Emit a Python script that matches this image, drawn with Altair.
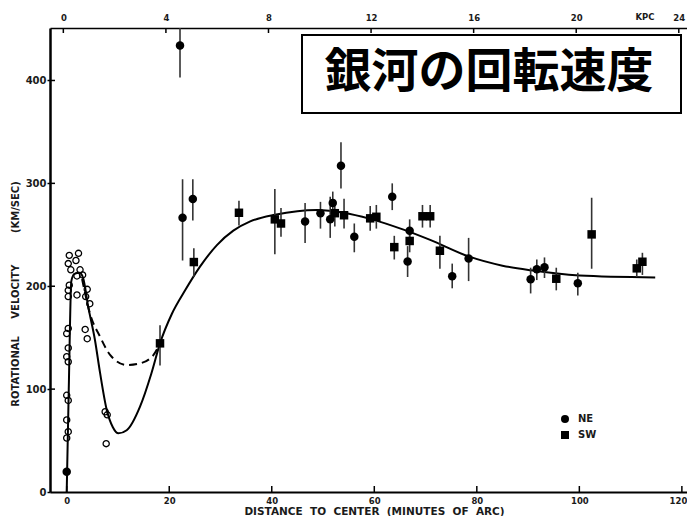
import altair as alt
import pandas as pd

# ---------------- data ----------------
x_ticks = [0, 20, 40, 60, 80, 100, 120]
y_ticks = [100, 200, 300, 400]
y_labels = [0, 100, 200, 300, 400]
kpc_ticks = [0, 4, 8, 12, 16, 20, 24]

# NE (filled circles): distance (arcmin), velocity, error low, error high
ne_x = [0.0, 22.1, 22.6, 24.6, 46.5, 49.5, 51.9, 51.4, 53.5, 56.1, 63.5, 66.9, 66.5,
        75.2, 78.4, 90.5, 91.7, 93.2, 99.7]
ne_v = [19.7, 434, 266.6, 284.7, 263, 271, 281, 265, 317, 248, 287, 254, 224,
        209.6, 227, 206.7, 216.4, 218.4, 202.8]
ne_lo = [19.7, 403, 225, 264, 242, 256, 268, 247, 295, 233, 274, 242, 209,
         198, 205, 193, 206, 208, 191]
ne_hi = [19.7, 460, 304, 304, 281, 282, 292, 287, 340, 261, 300, 265, 239,
         222, 247, 218, 226, 228, 213]

# SW (filled squares)
sw_x = [18.2, 24.8, 33.6, 40.6, 41.8, 52.3, 54.1, 59.2, 60.4, 63.9, 66.9, 69.4, 70.9,
        72.8, 95.5, 102.4, 111.2, 112.3]
sw_v = [144.5, 223.5, 271.4, 265, 261, 271, 269, 266, 267.5, 238, 244, 268, 268,
        234.5, 207.3, 250.4, 217.4, 223.8]
sw_lo = [123, 209, 259, 231, 248, 258, 256, 254, 256, 226, 233, 257, 257,
         217, 196, 217, 209, 211]
sw_hi = [162, 237, 283, 294.5, 276, 284, 285, 278, 279, 249, 255, 279, 279,
         249, 218, 286, 226, 232.5]

# inner-region open circles
open_x = [0.5, 2.3, 0.3, 1.8, 0.8, 2.6, 2.0, 3.1, 0.5, 0.3, 0.3, 2.0, 4.0, 4.5, 3.7,
          3.6, 4.0, 0.3, 0.0, 0.3, 0.0, 0.3, 0.0, 0.3, 0.0, 0.3, 0.0, 7.5, 7.9, 7.7]
open_v = [230, 232, 222, 225, 216, 216, 210, 211, 201, 196, 190, 191.5, 197, 183, 190,
          158, 149, 159, 154, 140, 131.5, 126.6, 94, 89, 70, 58.6, 52.5, 78, 75, 47]

# fitted rotation curve (solid) and alternative inner curve (dashed)
curve_x = [0, 0.4, 0.9, 1.5, 2.5, 3.2, 4.2, 5.5, 6.5, 7.8, 9.0, 10.1, 11.7, 14.3,
           16.5, 18.2, 20.5, 23.1, 26.0, 29.3, 32.5, 35.8, 40.6, 45.0, 48.8, 54.0,
           59.2, 65.7, 70.9, 78.4, 85.0, 90.5, 100.0, 114.8]
curve_v = [0, 100, 205, 212, 213, 208, 180, 148, 116, 80, 63, 57, 60, 83,
           115, 144.5, 173, 196, 219, 240, 254, 263, 269.5, 273, 274, 271.5,
           265.5, 255, 245, 229, 220, 215.5, 210.5, 208.6]
dash_x = [3.0, 4.5, 6.5, 8.5, 11.7, 14.3, 16.9, 18.2]
dash_v = [207, 174, 151, 133, 123.4, 125, 133, 144.5]

title_text = "銀河の回転速度"
x_title = "DISTANCE\u00a0 TO\u00a0 CENTER\u00a0 (MINUTES\u00a0 OF\u00a0 ARC)"
y_title = ("ROTATIONAL" + "\u00a0" * 5 + "VELOCITY" + "\u00a0" * 9 + "(KM/SEC)")
kpc_label = "KPC"

# ---------------- tables ----------------
pts = pd.DataFrame({
    "x": ne_x + sw_x,
    "v": ne_v + sw_v,
    "lo": ne_lo + sw_lo,
    "hi": ne_hi + sw_hi,
    "series": ["NE"] * len(ne_x) + ["SW"] * len(sw_x),
})
open_df = pd.DataFrame({"x": open_x, "v": open_v})
curve_df = pd.DataFrame({"x": curve_x, "v": curve_v})
dash_df = pd.DataFrame({"x": dash_x, "v": dash_v})
xt_df = pd.DataFrame({"t": x_ticks})
yt_df = pd.DataFrame({"t": y_ticks})
kt_df = pd.DataFrame({"k": kpc_ticks})
title_df = pd.DataFrame({"t": [title_text]})
kpc_df = pd.DataFrame({"t": [kpc_label]})

W, H = 637, 464
FONT = "DejaVu Sans"
TXT = "#1a1a1a"

xscale = alt.Scale(domain=[-3.26, 121.0], nice=False, zero=False)
yscale = alt.Scale(domain=[0, 451], nice=False, zero=False)
kscale = alt.Scale(domain=[-0.52, 24.32], nice=False, zero=False)

xaxis = alt.Axis(values=x_ticks, ticks=False, tickSize=0, labelPadding=4,
                 labelFontSize=8.5, labelFont=FONT, labelFontWeight="bold",
                 labelColor=TXT,
                 labelAlign=alt.condition("datum.value == 120", alt.value("right"),
                                          alt.value("center")),
                 labelOffset=alt.condition("datum.value == 120", alt.value(5),
                                           alt.value(0)),
                 domainWidth=2, domainColor="black", grid=False,
                 title=x_title, titleFont=FONT, titleFontSize=10.5,
                 titleFontWeight="bold", titleColor=TXT,
                 titleX=324, titleY=22, titleBaseline="alphabetic")
yaxis = alt.Axis(values=y_labels, ticks=True, tickSize=3, tickWidth=1.5,
                 tickColor="black", labelPadding=1, labelFontSize=10,
                 labelFont=FONT, labelFontWeight="bold", labelColor=TXT,
                 domainWidth=2.5, domainColor="black", grid=False,
                 title=y_title, titleFont=FONT, titleFontSize=10,
                 titleFontWeight="bold", titleColor=TXT,
                 titleAngle=270, titleX=-34.5, titleY=265.5,
                 titleBaseline="middle", titleAlign="center")


def X(f):
    return alt.X(f"{f}:Q", scale=xscale, axis=xaxis)


def Y(f):
    return alt.Y(f"{f}:Q", scale=yscale, axis=yaxis)


curve = alt.Chart(curve_df).mark_line(color="black", strokeWidth=2,
                                      interpolate="monotone").encode(x=X("x"), y=Y("v"))
dashed = alt.Chart(dash_df).mark_line(color="black", strokeWidth=2,
                                      strokeDash=[8, 5], interpolate="monotone").encode(
    x=X("x"), y=Y("v"))
errbars = alt.Chart(pts).mark_rule(color="#333", strokeWidth=1.6, clip=True).encode(
    x=X("x"), y=Y("lo"), y2="hi")
points = alt.Chart(pts).mark_point(filled=True, opacity=1, color="black", size=72).encode(
    x=X("x"), y=Y("v"),
    shape=alt.Shape("series:N",
                    scale=alt.Scale(domain=["NE", "SW"], range=["circle", "square"]),
                    legend=alt.Legend(title=None, orient="none", legendX=510, legendY=386,
                                      symbolSize=64, symbolFillColor="black",
                                      symbolStrokeWidth=0, labelFontSize=10,
                                      labelFont=FONT, labelFontWeight="bold",
                                      labelColor=TXT,
                                      labelOffset=8, rowPadding=6, clipHeight=10)))
opens = alt.Chart(open_df).mark_point(shape="circle", filled=False, color="black",
                                      strokeWidth=1.3, size=38, opacity=1).encode(
    x=X("x"), y=Y("v"))
xticks_in = alt.Chart(xt_df).mark_rule(color="black", strokeWidth=1.5).encode(
    x=X("t"), y=alt.value(H), y2=alt.value(H - 6))
yticks_in = alt.Chart(yt_df).mark_rule(color="black", strokeWidth=1.5).encode(
    y=Y("t"), x=alt.value(0), x2=alt.value(5))
box = alt.Chart(title_df).mark_rect(fill="white", stroke="black", strokeWidth=2).encode(
    x=alt.value(252), x2=alt.value(631), y=alt.value(7), y2=alt.value(85))
box_text = alt.Chart(title_df).mark_text(font="Noto Sans CJK JP", fontSize=47,
                                         fontWeight="bold", color="black",
                                         align="center", baseline="middle").encode(
    x=alt.value(439), y=alt.value(45), text="t:N")

main = alt.layer(curve, dashed, errbars, opens, points, xticks_in, yticks_in, box, box_text)

top_ticks = alt.Chart(kt_df).mark_rule(color="black", strokeWidth=1.5).encode(
    x=alt.X("k:Q", scale=kscale,
            axis=alt.Axis(orient="top", values=kpc_ticks, ticks=False, tickSize=0,
                          labelPadding=6, labelFontSize=8.5, labelFont=FONT,
                          labelFontWeight="bold", labelColor=TXT,
                          domainWidth=1.5, domainColor="black",
                          grid=False, title=None)),
    y=alt.value(0), y2=alt.value(5))
kpc_text = alt.Chart(kpc_df).mark_text(font=FONT, fontSize=8.5, fontWeight="bold",
                                       color=TXT, align="center", baseline="bottom").encode(
    x=alt.value(595), y=alt.value(-6), text="t:N")

chart = alt.layer(main, top_ticks, kpc_text).resolve_scale(x="independent").properties(
    width=W, height=H,
    padding={"left": 42, "top": 20, "right": 0, "bottom": 24},
    autosize=alt.AutoSizeParams(type="none"),
    background="white",
).configure_view(strokeWidth=0)

chart.save("out.html", embed_options={"renderer": "svg", "actions": False})
